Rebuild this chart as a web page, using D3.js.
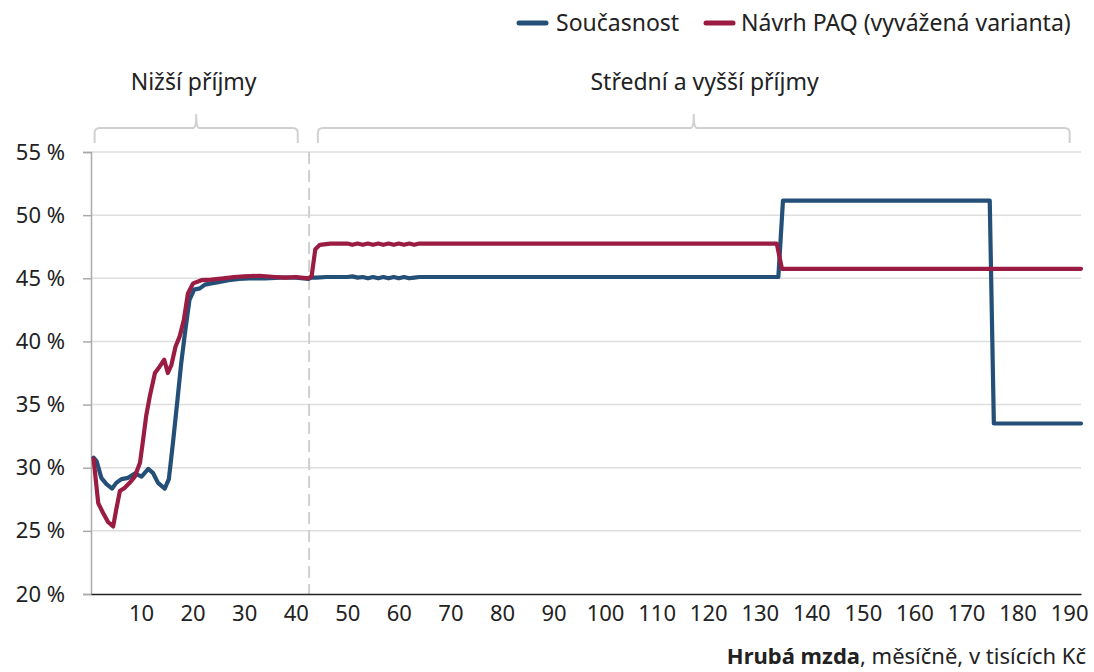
<!DOCTYPE html>
<html><head><meta charset="utf-8">
<script src="https://cdn.jsdelivr.net/npm/d3@7"></script>
<style>
html,body{margin:0;padding:0;background:#fff;}
svg{display:block;font-family:"Noto Sans","Open Sans",sans-serif;}
</style></head>
<body>
<svg id="c" width="1094" height="672"></svg>
<script>
// ---- data ----
const seriesNames = ["Současnost", "Návrh PAQ (vyvážená varianta)"];
const seriesColors = ["#245078", "#9b1c42"];
// wages (thousands CZK) and effective rate (%) - Současnost
const wageCurrent = [0.8,1.4,2.3,3.3,4.4,5.2,6.2,7.5,8.8,10.1,11.4,12.3,13.3,14.6,15.4,16.2,17.0,17.8,18.6,19.4,20.3,21.4,22.4,23.6,25,27,29,31,34,37,40,42.5,43.1,44,46,50,51,52,53,54,55,56,57,58,59,60,61,62,63,64,133.6,134.5,174.6,175.4,192.3];
const rateCurrent = [30.8,30.5,29.2,28.7,28.35,28.8,29.1,29.2,29.55,29.3,29.9,29.6,28.8,28.35,29.1,32.0,35.1,38.3,40.9,43.3,44.1,44.2,44.5,44.6,44.7,44.85,44.95,45.0,45.0,45.05,45.05,44.95,45.05,45.05,45.1,45.1,45.15,45.05,45.1,45.0,45.1,45.0,45.1,45.0,45.1,45.0,45.1,45.0,45.05,45.1,45.1,51.15,51.15,33.5,33.5];
// Návrh PAQ
const wageProposal = [0.8,1.7,2.6,3.6,4.6,5.2,5.9,6.8,7.8,8.8,9.8,10.4,11.0,11.7,12.7,13.6,14.5,15.2,15.9,16.7,17.5,18.3,19.1,20.1,21.7,23.6,26,28,30,33,36,38,40,42.5,43.1,43.8,44.7,46.7,50,51,52,53,54,55,56,57,58,59,60,61,62,63,64,133.3,134.3,192.3];
const rateProposal = [30.7,27.2,26.45,25.7,25.35,26.7,28.15,28.4,28.8,29.3,30.4,32.2,34.1,35.65,37.5,38.0,38.55,37.5,38.15,39.6,40.4,41.7,43.8,44.6,44.85,44.9,45.0,45.1,45.15,45.2,45.1,45.05,45.1,45.0,45.2,47.3,47.65,47.75,47.75,47.65,47.75,47.65,47.75,47.65,47.75,47.65,47.75,47.65,47.75,47.65,47.75,47.65,47.75,47.75,45.75,45.75];
const xTicks = [10,20,30,40,50,60,70,80,90,100,110,120,130,140,150,160,170,180,190];
const yTicks = [20,25,30,35,40,45,50,55];
const divider = 42.6;
const groups = [
  {label:"Nižší příjmy", from:1, to:40.4, labelAt:20.2},
  {label:"Střední a vyšší příjmy", from:44.3, to:190.1, labelAt:119.3}
];
const xTitleBold = "Hrubá mzda";
const xTitleRest = ", měsíčně, v tisících Kč";

// ---- layout ----
const svg = d3.select("#c");
const pL = 91, pR = 1081, pT = 152, pB = 594;
const x = d3.scaleLinear().domain([0.3, 192.3]).range([pL, pR]);
const y = d3.scaleLinear().domain([20, 55]).range([pB, pT]);

// gridlines
svg.append("g").selectAll("line").data(yTicks.filter(d=>d>20)).join("line")
  .attr("x1", pL).attr("x2", pR)
  .attr("y1", d=>y(d)).attr("y2", d=>y(d))
  .attr("stroke", "#dedede").attr("stroke-width", 1.5);

// y axis
const yAxis = svg.append("g").attr("transform", `translate(${pL},0)`)
  .call(d3.axisLeft(y).tickValues(yTicks).tickSize(8).tickPadding(18).tickFormat(d=>d+" %"));
yAxis.select(".domain").attr("stroke", "#aaa").attr("stroke-width", 1.5);
yAxis.selectAll(".tick line").attr("stroke", "#aaa").attr("stroke-width", 1.5);
yAxis.selectAll("text").attr("font-size", 22).attr("fill", "#222")
  .attr("font-family", "'Noto Sans',sans-serif");

// divider
svg.append("line").attr("x1", x(divider)).attr("x2", x(divider))
  .attr("y1", pT).attr("y2", pB)
  .attr("stroke", "#cfcfcf").attr("stroke-width", 2).attr("stroke-dasharray", "12,6");

// x axis
const xAxis = svg.append("g").attr("transform", `translate(0,${pB})`)
  .call(d3.axisBottom(x).tickValues(xTicks).tickSize(0).tickPadding(11).tickSizeOuter(0));
xAxis.select(".domain").attr("stroke", "#222").attr("stroke-width", 1.5);
xAxis.selectAll("text").attr("font-size", 22).attr("fill", "#222")
  .attr("font-family", "'Noto Sans',sans-serif");

// lines
const line = d3.line().x(d=>x(d[0])).y(d=>y(d[1]));
const data = [d3.zip(wageCurrent, rateCurrent), d3.zip(wageProposal, rateProposal)];
svg.append("g").selectAll("path").data(data).join("path")
  .attr("d", line).attr("fill", "none")
  .attr("stroke", (d,i)=>seriesColors[i]).attr("stroke-width", 4.2)
  .attr("stroke-linejoin", "round").attr("stroke-linecap", "round");

// braces
const bTop = 128, bBot = 143, bTip = 114;
groups.forEach(g=>{
  const x0 = x(g.from), x1 = x(g.to), xm = (x0+x1)/2, r = 5;
  const p = `M${x0},${bBot} L${x0},${bTop+r} Q${x0},${bTop} ${x0+r},${bTop} L${xm-3},${bTop} Q${xm},${bTop} ${xm},${bTip} Q${xm},${bTop} ${xm+3},${bTop} L${x1-r},${bTop} Q${x1},${bTop} ${x1},${bTop+r} L${x1},${bBot}`;
  svg.append("path").attr("d", p).attr("fill", "none").attr("stroke", "#d0d0d0").attr("stroke-width", 2);
  svg.append("text").attr("x", x(g.labelAt)).attr("y", 90).attr("text-anchor", "middle")
    .attr("font-size", 23).attr("fill", "#222").text(g.label);
});

// legend
const leg = svg.append("g");
const legItems = [{sx:519, tx:556}, {sx:706, tx:741}];
seriesNames.forEach((n,i)=>{
  leg.append("line").attr("x1", legItems[i].sx).attr("x2", legItems[i].sx+27)
    .attr("y1", 23).attr("y2", 23).attr("stroke", seriesColors[i])
    .attr("stroke-width", 5).attr("stroke-linecap", "round");
  leg.append("text").attr("x", legItems[i].tx).attr("y", 31)
    .attr("font-size", 23).attr("fill", "#222").text(n);
});

// x title
const t = svg.append("text").attr("x", 1086).attr("y", 664).attr("text-anchor", "end")
  .attr("font-size", 22).attr("fill", "#222");
t.append("tspan").attr("font-weight", "bold").text(xTitleBold);
t.append("tspan").text(xTitleRest);
</script>
</body></html>
